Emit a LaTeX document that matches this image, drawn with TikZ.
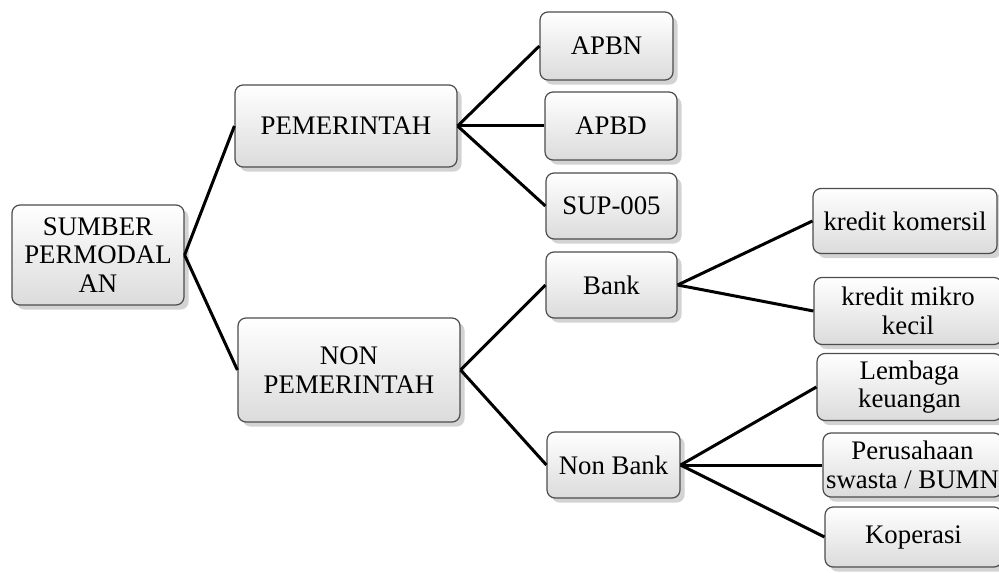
\documentclass[tikz,border=0pt]{standalone}
\usepackage{fontspec}
\setmainfont{Liberation Serif}
\usepackage{tikz}
\usetikzlibrary{shadows}

\tikzset{
  kotak/.style={draw=gray!60!black, line width=0.6pt, rounded corners=4pt,
    top color=white, bottom color=gray!28, drop shadow={opacity=0.35},
    align=center, inner sep=1pt, font=\fontsize{13.4}{14.4}\selectfont},
  garis/.style={line width=1.5pt, black}
}

\begin{document}
\begin{tikzpicture}[x=0.5pt,y=-0.5pt]
  \useasboundingbox (0,0) rectangle (999,572);

  % akar
  \node[kotak, minimum width=86pt, minimum height=50pt] (sumber) at (98,255) {SUMBER\\PERMODAL\\AN};

  % tingkat 1
  \node[kotak, minimum width=111pt, minimum height=41pt] (pem) at (346,126) {PEMERINTAH};
  \node[kotak, minimum width=111pt, minimum height=52pt] (nonpem) at (349,370) {NON\\PEMERINTAH};

  % tingkat 2
  \node[kotak, minimum width=66.5pt, minimum height=34pt] (apbn) at (606.5,46) {APBN};
  \node[kotak, minimum width=66pt, minimum height=34pt] (apbd) at (611,126) {APBD};
  \node[kotak, minimum width=65.5pt, minimum height=33pt] (sup) at (611.5,206) {SUP-005};
  \node[kotak, minimum width=65.5pt, minimum height=33pt] (bank) at (611.5,285) {Bank};
  \node[kotak, minimum width=66.5pt, minimum height=33pt] (nonbank) at (613.5,465) {Non Bank};

  % tingkat 3
  \node[kotak, minimum width=92pt, minimum height=32.5pt] (komersil) at (905,221) {kredit komersil};
  \node[kotak, minimum width=94pt, minimum height=33.5pt] (mikro) at (908,311) {kredit mikro\\kecil};
  \node[kotak, minimum width=92.5pt, minimum height=33.5pt] (lembaga) at (909.5,387) {Lembaga\\keuangan};
  \node[kotak, minimum width=89.5pt, minimum height=32pt] (swasta) at (912.5,465) {Perusahaan\\swasta / BUMN};
  \node[kotak, minimum width=88.5pt, minimum height=30pt] (koperasi) at (913.5,537) {Koperasi};

  % garis penghubung
  \draw[garis] (sumber.east) -- (pem.west);
  \draw[garis] (sumber.east) -- (nonpem.west);

  \draw[garis] (pem.east) -- (apbn.west);
  \draw[garis] (pem.east) -- (apbd.west);
  \draw[garis] (pem.east) -- (sup.west);

  \draw[garis] (nonpem.east) -- (bank.west);
  \draw[garis] (nonpem.east) -- (nonbank.west);

  \draw[garis] (bank.east) -- (komersil.west);
  \draw[garis] (bank.east) -- (mikro.west);

  \draw[garis] (nonbank.east) -- (lembaga.west);
  \draw[garis] (nonbank.east) -- (swasta.west);
  \draw[garis] (nonbank.east) -- (koperasi.west);
\end{tikzpicture}
\end{document}
